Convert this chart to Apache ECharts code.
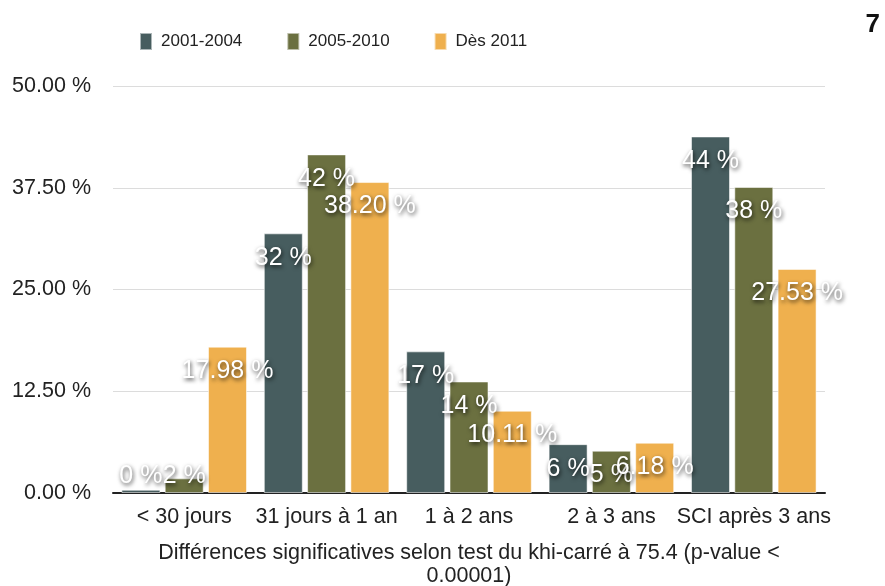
<!DOCTYPE html>
<html>
<head>
<meta charset="utf-8">
<script src="https://cdn.jsdelivr.net/npm/echarts@6/dist/echarts.min.js"></script>
<style>
  html, body { margin: 0; padding: 0; background: #fff; }
  #chart { width: 885px; height: 586px; }
</style>
</head>
<body>
<div id="chart"></div>
<script>
// Délai de prise en charge, par période
const categories = ['< 30 jours', '31 jours à 1 an', '1 à 2 ans', '2 à 3 ans', 'SCI après 3 ans'];
const periods = ['2001-2004', '2005-2010', 'Dès 2011'];
const values2001 = [0.4, 31.9, 17.4, 6.0, 43.8];
const values2005 = [1.8, 41.6, 13.7, 5.2, 37.6];
const values2011 = [17.98, 38.20, 10.11, 6.18, 27.53];
const yTicks = { min: 0, max: 50, step: 12.5 };
const axisTitle = 'Différences significatives selon test du khi-carré à 75.4 (p-value <\n0.00001)';

const colors = ['#475d5f', '#6b7040', '#efb04e'];
const FONT = '"Liberation Sans", Arial, Helvetica, sans-serif';
const AXIS_FONT_SIZE = 21.5;

function labelStyle(decimals) {
  return {
    show: true,
    position: 'insideTop',
    distance: 12,
    color: '#fff',
    fontFamily: FONT,
    fontSize: 25,
    textShadowColor: 'rgba(0,0,0,0.75)',
    textShadowBlur: 4,
    textShadowOffsetX: 1,
    textShadowOffsetY: 2,
    formatter: p => (decimals ? p.value.toFixed(2) : Math.round(p.value)) + ' %'
  };
}

// small bars get their label lifted inside the bottom of the plot
function items(arr) {
  return arr.map(v => v < 3
    ? { value: v, label: { position: 'insideBottom', distance: 4 } }
    : v);
}

function series(name, arr, idx, decimals) {
  return {
    name: name,
    type: 'bar',
    data: items(arr),
    barWidth: 39,
    barGap: '11%',
    itemStyle: { color: colors[idx], borderColor: 'rgba(255,255,255,0.55)', borderWidth: 1 },
    label: labelStyle(decimals),
    emphasis: { disabled: true }
  };
}

const chart = echarts.init(document.getElementById('chart'), null, { renderer: 'canvas' });
chart.setOption({
  animation: false,
  textStyle: { fontFamily: FONT },
  legend: {
    data: periods,
    left: 139,
    top: 32,
    padding: 0,
    icon: 'rect',
    itemWidth: 12,
    itemHeight: 17,
    itemGap: 44,
    textStyle: {
      fontFamily: FONT,
      fontSize: 17,
      color: '#222',
      padding: [0, 0, 0, 4]
    }
  },
  graphic: [{
    type: 'text',
    right: 5,
    top: 12,
    style: { text: '7', font: 'bold 26px ' + FONT, fill: '#111' }
  }],
  grid: { left: 113, right: 60, top: 86, bottom: 93, containLabel: false, outerBoundsMode: 'none' },
  xAxis: {
    type: 'category',
    data: categories,
    axisLine: { lineStyle: { color: '#222', width: 2 } },
    axisTick: { show: false },
    axisLabel: { fontSize: AXIS_FONT_SIZE, color: '#222', margin: 13, interval: 0 },
    name: axisTitle,
    nameLocation: 'middle',
    nameGap: 49,
    nameTextStyle: { fontSize: AXIS_FONT_SIZE, color: '#222', lineHeight: 23, align: 'center' }
  },
  yAxis: {
    type: 'value',
    min: yTicks.min,
    max: yTicks.max,
    interval: yTicks.step,
    axisLine: { show: false },
    axisTick: { show: false },
    splitLine: { lineStyle: { color: '#dcdcdc', width: 1 } },
    axisLabel: {
      fontSize: AXIS_FONT_SIZE,
      color: '#222',
      margin: 22,
      formatter: v => v.toFixed(2) + ' %'
    }
  },
  series: [
    series(periods[0], values2001, 0, false),
    series(periods[1], values2005, 1, false),
    series(periods[2], values2011, 2, true)
  ]
});
</script>
</body>
</html>
